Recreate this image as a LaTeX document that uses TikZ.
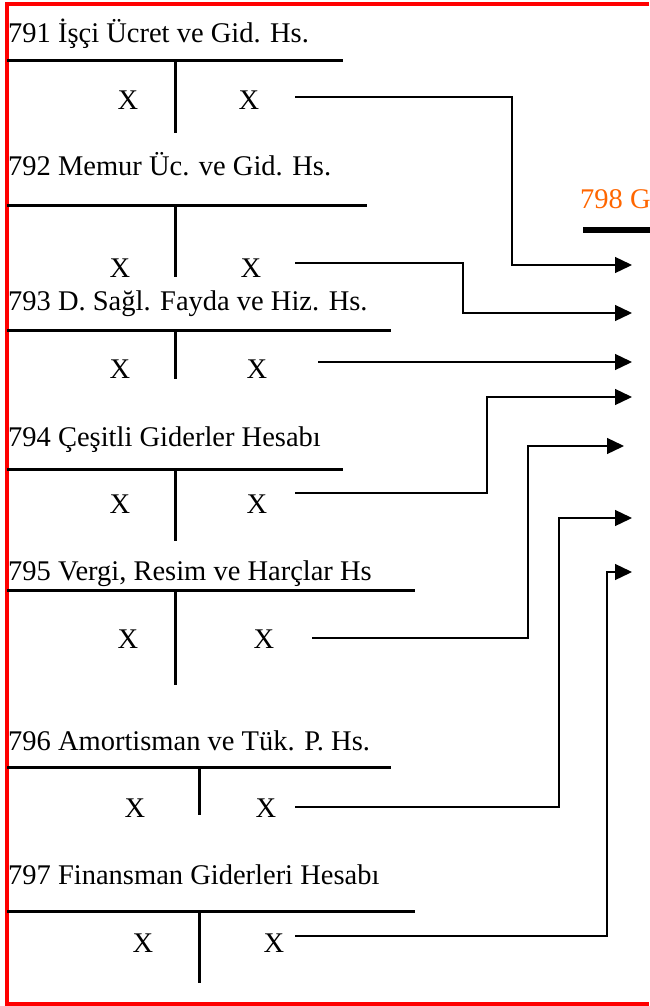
\documentclass[tikz,border=0pt]{standalone}
\usepackage{fontspec}
\setmainfont{Liberation Serif}
\usetikzlibrary{arrows.meta}
\definecolor{orangetitre}{RGB}{255,102,0}

\begin{document}
\begin{tikzpicture}[
    x=1pt, y=-1pt,
    font=\fontsize{28.5}{34}\selectfont,
    >={Triangle[length=17pt, width=16pt]},
    % Style des titres de comptes
    titre/.style={
        anchor=base west,
        inner sep=0pt
    },
    % Style des montants X
    montant/.style={
        anchor=base,
        inner sep=0pt
    },
    % Traits du compte en T
    tligne/.style={
        line width=3pt,
        black
    },
    fleche/.style={
        ->,
        line width=1.3pt,
        black
    },
    cadre/.style={
        line width=4.5pt,
        red
    }
]
    \useasboundingbox (0,0) rectangle (649,1006);

    % --- CADRE ---
    \draw[cadre] (649,4) -- (7,4) -- (7,1004) -- (649,1004);

    % --- COMPTES 791 A 797 ---

    % 791
    \node[titre] (t791) at (8,43) {791 İşçi Ücret ve Gid. Hs.};
    \draw[tligne] (7,61) -- (343,61);
    \draw[tligne] (175,61) -- (175,133);
    \node[montant] (d791) at (128,110) {X};
    \node[montant] (c791) at (249,110) {X};

    % 792
    \node[titre] (t792) at (8,175) {792 Memur Üc. ve Gid. Hs.};
    \draw[tligne] (7,205) -- (367,205);
    \draw[tligne] (175,205) -- (175,277);
    \node[montant] (d792) at (120,277) {X};
    \node[montant] (c792) at (251,277) {X};

    % 793
    \node[titre] (t793) at (8,310) {793 D. Sağl. Fayda ve Hiz. Hs.};
    \draw[tligne] (7,330) -- (391,330);
    \draw[tligne] (175,330) -- (175,379);
    \node[montant] (d793) at (120,378) {X};
    \node[montant] (c793) at (257,378) {X};

    % 794
    \node[titre] (t794) at (8,446) {794 Çeşitli Giderler Hesabı};
    \draw[tligne] (7,469) -- (343,469);
    \draw[tligne] (175,469) -- (175,541);
    \node[montant] (d794) at (120,513) {X};
    \node[montant] (c794) at (257,513) {X};

    % 795
    \node[titre] (t795) at (8,580) {795 Vergi, Resim ve Harçlar Hs};
    \draw[tligne] (7,590) -- (415,590);
    \draw[tligne] (175,590) -- (175,685);
    \node[montant] (d795) at (128,648) {X};
    \node[montant] (c795) at (264,648) {X};

    % 796
    \node[titre] (t796) at (8,750) {796 Amortisman ve Tük. P. Hs.};
    \draw[tligne] (7,767) -- (391,767);
    \draw[tligne] (199,767) -- (199,815);
    \node[montant] (d796) at (135,817) {X};
    \node[montant] (c796) at (266,817) {X};

    % 797
    \node[titre] (t797) at (8,884) {797 Finansman Giderleri Hesabı};
    \draw[tligne] (7,911) -- (415,911);
    \draw[tligne] (199,911) -- (199,983);
    \node[montant] (d797) at (143,952) {X};
    \node[montant] (c797) at (274,952) {X};

    % --- COMPTE 798 (coupé à droite) ---
    \node[titre, text=orangetitre] (t798) at (580,208) {798 G};
    \draw[line width=5.5pt] (583,230) -- (652,230);

    % --- LIAISONS / FLÈCHES ---
    \coordinate (a791) at (295,97);
    \coordinate (a792) at (295,263);
    \coordinate (a793) at (318,362);
    \coordinate (a794) at (295,493);
    \coordinate (a795) at (312,638);
    \coordinate (a796) at (295,807);
    \coordinate (a797) at (295,936);

    \coordinate (e791) at (632,265);
    \coordinate (e792) at (632,313);
    \coordinate (e793) at (632,362);
    \coordinate (e794) at (632,397);
    \coordinate (e795) at (624,446);
    \coordinate (e796) at (632,518);
    \coordinate (e797) at (632,572);

    \draw[fleche] (a791) -- ++(217,0) |- (e791);
    \draw[fleche] (a792) -- ++(168,0) |- (e792);
    \draw[fleche] (a793) -- (e793);
    \draw[fleche] (a794) -- ++(192,0) |- (e794);
    \draw[fleche] (a795) -- ++(216,0) |- (e795);
    \draw[fleche] (a796) -- ++(264,0) |- (e796);
    \draw[fleche] (a797) -- ++(312,0) |- (e797);

\end{tikzpicture}
\end{document}
